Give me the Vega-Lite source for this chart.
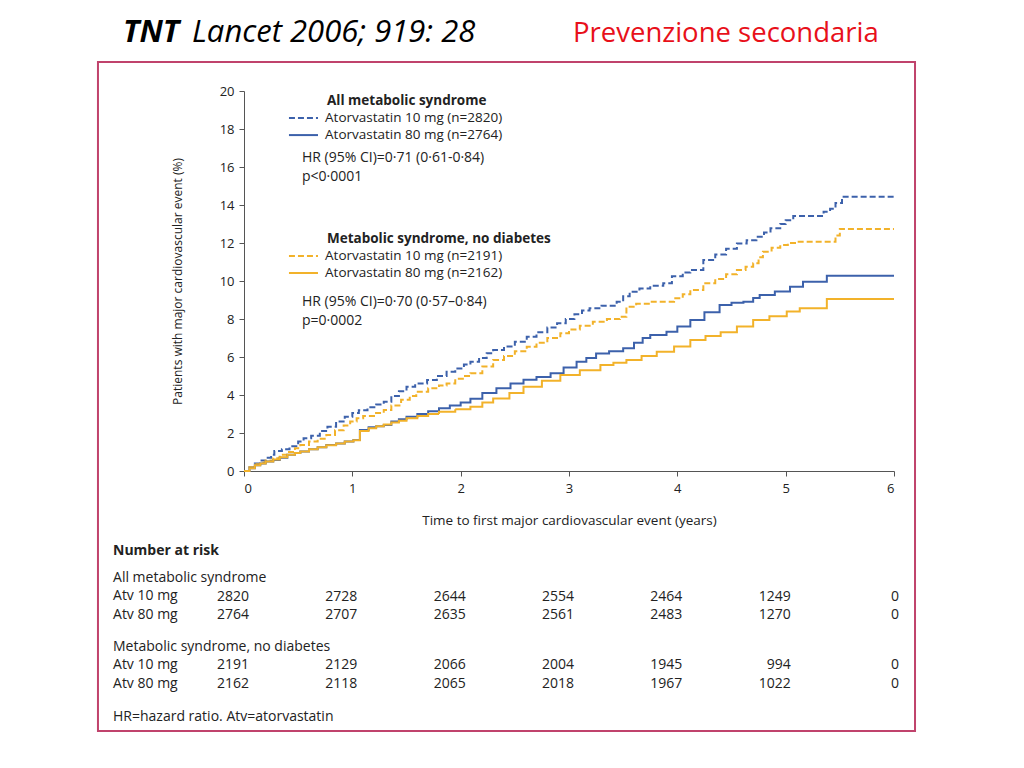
{
"$schema": "https://vega.github.io/schema/vega-lite/v6.json",
"width": 650, "height": 380,
"autosize": {"type": "none"},
"padding": {"left": 244, "top": 91, "right": 130, "bottom": 297},
"background": "white",
"config": {"view": {"stroke": null}, "font": "Open Sans", "text": {"font": "Open Sans", "color": "#222"}},
"data": {"values": [{}]},
"resolve": {"axis": {"x": "independent", "y": "independent"}},
"datasets": {
"risk": [
{"g":"a","d":"10","t":0,"n":2820},{"g":"a","d":"10","t":1,"n":2728},{"g":"a","d":"10","t":2,"n":2644},{"g":"a","d":"10","t":3,"n":2554},{"g":"a","d":"10","t":4,"n":2464},{"g":"a","d":"10","t":5,"n":1249},{"g":"a","d":"10","t":6,"n":0},
{"g":"a","d":"80","t":0,"n":2764},{"g":"a","d":"80","t":1,"n":2707},{"g":"a","d":"80","t":2,"n":2635},{"g":"a","d":"80","t":3,"n":2561},{"g":"a","d":"80","t":4,"n":2483},{"g":"a","d":"80","t":5,"n":1270},{"g":"a","d":"80","t":6,"n":0},
{"g":"n","d":"10","t":0,"n":2191},{"g":"n","d":"10","t":1,"n":2129},{"g":"n","d":"10","t":2,"n":2066},{"g":"n","d":"10","t":3,"n":2004},{"g":"n","d":"10","t":4,"n":1945},{"g":"n","d":"10","t":5,"n":994},{"g":"n","d":"10","t":6,"n":0},
{"g":"n","d":"80","t":0,"n":2162},{"g":"n","d":"80","t":1,"n":2118},{"g":"n","d":"80","t":2,"n":2065},{"g":"n","d":"80","t":3,"n":2018},{"g":"n","d":"80","t":4,"n":1967},{"g":"n","d":"80","t":5,"n":1022},{"g":"n","d":"80","t":6,"n":0}
],
"curves": [
{"g":"a","d":"10","t":0,"v":0},{"g":"a","d":"10","t":0.05,"v":0.2},{"g":"a","d":"10","t":0.1,"v":0.4},{"g":"a","d":"10","t":0.15,"v":0.55},{"g":"a","d":"10","t":0.2,"v":0.7},{"g":"a","d":"10","t":0.25,"v":0.85},{"g":"a","d":"10","t":0.28,"v":1.05},{"g":"a","d":"10","t":0.35,"v":1.15},{"g":"a","d":"10","t":0.42,"v":1.3},{"g":"a","d":"10","t":0.5,"v":1.55},{"g":"a","d":"10","t":0.55,"v":1.72},{"g":"a","d":"10","t":0.62,"v":1.85},{"g":"a","d":"10","t":0.7,"v":2.1},{"g":"a","d":"10","t":0.77,"v":2.33},{"g":"a","d":"10","t":0.85,"v":2.6},{"g":"a","d":"10","t":0.93,"v":2.85},{"g":"a","d":"10","t":1.0,"v":3.05},{"g":"a","d":"10","t":1.06,"v":3.2},{"g":"a","d":"10","t":1.14,"v":3.35},{"g":"a","d":"10","t":1.22,"v":3.5},{"g":"a","d":"10","t":1.29,"v":3.65},{"g":"a","d":"10","t":1.36,"v":3.95},{"g":"a","d":"10","t":1.43,"v":4.2},{"g":"a","d":"10","t":1.5,"v":4.44},{"g":"a","d":"10","t":1.58,"v":4.6},{"g":"a","d":"10","t":1.69,"v":4.79},{"g":"a","d":"10","t":1.78,"v":5.0},{"g":"a","d":"10","t":1.87,"v":5.23},{"g":"a","d":"10","t":1.95,"v":5.4},{"g":"a","d":"10","t":2.03,"v":5.6},{"g":"a","d":"10","t":2.09,"v":5.75},{"g":"a","d":"10","t":2.17,"v":5.95},{"g":"a","d":"10","t":2.24,"v":6.2},{"g":"a","d":"10","t":2.3,"v":6.37},{"g":"a","d":"10","t":2.4,"v":6.55},{"g":"a","d":"10","t":2.5,"v":6.8},{"g":"a","d":"10","t":2.61,"v":7.07},{"g":"a","d":"10","t":2.7,"v":7.3},{"g":"a","d":"10","t":2.8,"v":7.55},{"g":"a","d":"10","t":2.89,"v":7.77},{"g":"a","d":"10","t":2.97,"v":8.0},{"g":"a","d":"10","t":3.05,"v":8.25},{"g":"a","d":"10","t":3.12,"v":8.45},{"g":"a","d":"10","t":3.19,"v":8.56},{"g":"a","d":"10","t":3.3,"v":8.7},{"g":"a","d":"10","t":3.44,"v":8.91},{"g":"a","d":"10","t":3.5,"v":9.2},{"g":"a","d":"10","t":3.56,"v":9.44},{"g":"a","d":"10","t":3.65,"v":9.6},{"g":"a","d":"10","t":3.75,"v":9.75},{"g":"a","d":"10","t":3.87,"v":9.88},{"g":"a","d":"10","t":3.95,"v":10.25},{"g":"a","d":"10","t":4.05,"v":10.45},{"g":"a","d":"10","t":4.12,"v":10.58},{"g":"a","d":"10","t":4.24,"v":11.1},{"g":"a","d":"10","t":4.35,"v":11.4},{"g":"a","d":"10","t":4.45,"v":11.7},{"g":"a","d":"10","t":4.55,"v":11.98},{"g":"a","d":"10","t":4.64,"v":12.15},{"g":"a","d":"10","t":4.73,"v":12.33},{"g":"a","d":"10","t":4.8,"v":12.55},{"g":"a","d":"10","t":4.86,"v":12.77},{"g":"a","d":"10","t":4.95,"v":13.0},{"g":"a","d":"10","t":5.0,"v":13.2},{"g":"a","d":"10","t":5.07,"v":13.42},{"g":"a","d":"10","t":5.35,"v":13.65},{"g":"a","d":"10","t":5.41,"v":13.8},{"g":"a","d":"10","t":5.46,"v":14.1},{"g":"a","d":"10","t":5.52,"v":14.44},{"g":"a","d":"10","t":6.0,"v":14.44},
{"g":"n","d":"10","t":0,"v":0},{"g":"n","d":"10","t":0.05,"v":0.2},{"g":"n","d":"10","t":0.1,"v":0.35},{"g":"n","d":"10","t":0.15,"v":0.45},{"g":"n","d":"10","t":0.2,"v":0.55},{"g":"n","d":"10","t":0.27,"v":0.67},{"g":"n","d":"10","t":0.33,"v":0.85},{"g":"n","d":"10","t":0.4,"v":1.0},{"g":"n","d":"10","t":0.47,"v":1.2},{"g":"n","d":"10","t":0.52,"v":1.37},{"g":"n","d":"10","t":0.6,"v":1.55},{"g":"n","d":"10","t":0.68,"v":1.7},{"g":"n","d":"10","t":0.76,"v":1.89},{"g":"n","d":"10","t":0.84,"v":2.15},{"g":"n","d":"10","t":0.92,"v":2.4},{"g":"n","d":"10","t":0.98,"v":2.6},{"g":"n","d":"10","t":1.04,"v":2.77},{"g":"n","d":"10","t":1.1,"v":2.9},{"g":"n","d":"10","t":1.2,"v":3.05},{"g":"n","d":"10","t":1.29,"v":3.21},{"g":"n","d":"10","t":1.36,"v":3.45},{"g":"n","d":"10","t":1.45,"v":3.75},{"g":"n","d":"10","t":1.53,"v":3.95},{"g":"n","d":"10","t":1.59,"v":4.17},{"g":"n","d":"10","t":1.7,"v":4.35},{"g":"n","d":"10","t":1.8,"v":4.5},{"g":"n","d":"10","t":1.87,"v":4.61},{"g":"n","d":"10","t":1.95,"v":4.85},{"g":"n","d":"10","t":2.03,"v":5.0},{"g":"n","d":"10","t":2.09,"v":5.14},{"g":"n","d":"10","t":2.2,"v":5.5},{"g":"n","d":"10","t":2.3,"v":5.84},{"g":"n","d":"10","t":2.4,"v":6.05},{"g":"n","d":"10","t":2.5,"v":6.3},{"g":"n","d":"10","t":2.61,"v":6.54},{"g":"n","d":"10","t":2.7,"v":6.75},{"g":"n","d":"10","t":2.8,"v":7.0},{"g":"n","d":"10","t":2.92,"v":7.25},{"g":"n","d":"10","t":3.0,"v":7.45},{"g":"n","d":"10","t":3.1,"v":7.65},{"g":"n","d":"10","t":3.22,"v":7.86},{"g":"n","d":"10","t":3.35,"v":8.0},{"g":"n","d":"10","t":3.47,"v":8.12},{"g":"n","d":"10","t":3.53,"v":8.65},{"g":"n","d":"10","t":3.62,"v":8.8},{"g":"n","d":"10","t":3.75,"v":8.91},{"g":"n","d":"10","t":3.97,"v":9.09},{"g":"n","d":"10","t":4.05,"v":9.3},{"g":"n","d":"10","t":4.12,"v":9.53},{"g":"n","d":"10","t":4.24,"v":9.88},{"g":"n","d":"10","t":4.35,"v":10.1},{"g":"n","d":"10","t":4.45,"v":10.35},{"g":"n","d":"10","t":4.55,"v":10.58},{"g":"n","d":"10","t":4.63,"v":10.75},{"g":"n","d":"10","t":4.7,"v":10.93},{"g":"n","d":"10","t":4.75,"v":11.25},{"g":"n","d":"10","t":4.79,"v":11.54},{"g":"n","d":"10","t":4.87,"v":11.75},{"g":"n","d":"10","t":4.95,"v":11.89},{"g":"n","d":"10","t":5.02,"v":12.0},{"g":"n","d":"10","t":5.1,"v":12.07},{"g":"n","d":"10","t":5.46,"v":12.4},{"g":"n","d":"10","t":5.5,"v":12.74},{"g":"n","d":"10","t":6.0,"v":12.74},
{"g":"a","d":"80","t":0,"v":0},{"g":"a","d":"80","t":0.05,"v":0.15},{"g":"a","d":"80","t":0.1,"v":0.3},{"g":"a","d":"80","t":0.15,"v":0.4},{"g":"a","d":"80","t":0.2,"v":0.5},{"g":"a","d":"80","t":0.27,"v":0.58},{"g":"a","d":"80","t":0.33,"v":0.7},{"g":"a","d":"80","t":0.4,"v":0.85},{"g":"a","d":"80","t":0.47,"v":0.95},{"g":"a","d":"80","t":0.52,"v":1.02},{"g":"a","d":"80","t":0.6,"v":1.15},{"g":"a","d":"80","t":0.68,"v":1.25},{"g":"a","d":"80","t":0.76,"v":1.37},{"g":"a","d":"80","t":0.85,"v":1.45},{"g":"a","d":"80","t":0.93,"v":1.55},{"g":"a","d":"80","t":1.01,"v":1.63},{"g":"a","d":"80","t":1.07,"v":2.16},{"g":"a","d":"80","t":1.15,"v":2.3},{"g":"a","d":"80","t":1.22,"v":2.35},{"g":"a","d":"80","t":1.29,"v":2.42},{"g":"a","d":"80","t":1.36,"v":2.6},{"g":"a","d":"80","t":1.43,"v":2.72},{"g":"a","d":"80","t":1.5,"v":2.86},{"g":"a","d":"80","t":1.6,"v":3.0},{"g":"a","d":"80","t":1.7,"v":3.15},{"g":"a","d":"80","t":1.8,"v":3.3},{"g":"a","d":"80","t":1.9,"v":3.45},{"g":"a","d":"80","t":2.0,"v":3.6},{"g":"a","d":"80","t":2.09,"v":3.8},{"g":"a","d":"80","t":2.2,"v":4.1},{"g":"a","d":"80","t":2.33,"v":4.35},{"g":"a","d":"80","t":2.46,"v":4.61},{"g":"a","d":"80","t":2.58,"v":4.8},{"g":"a","d":"80","t":2.7,"v":4.95},{"g":"a","d":"80","t":2.83,"v":5.14},{"g":"a","d":"80","t":2.95,"v":5.45},{"g":"a","d":"80","t":3.07,"v":5.75},{"g":"a","d":"80","t":3.16,"v":5.95},{"g":"a","d":"80","t":3.25,"v":6.19},{"g":"a","d":"80","t":3.37,"v":6.3},{"g":"a","d":"80","t":3.5,"v":6.46},{"g":"a","d":"80","t":3.6,"v":6.75},{"g":"a","d":"80","t":3.68,"v":7.0},{"g":"a","d":"80","t":3.75,"v":7.16},{"g":"a","d":"80","t":3.9,"v":7.33},{"g":"a","d":"80","t":4.0,"v":7.6},{"g":"a","d":"80","t":4.12,"v":7.95},{"g":"a","d":"80","t":4.25,"v":8.35},{"g":"a","d":"80","t":4.39,"v":8.74},{"g":"a","d":"80","t":4.5,"v":8.85},{"g":"a","d":"80","t":4.61,"v":8.91},{"g":"a","d":"80","t":4.7,"v":9.1},{"g":"a","d":"80","t":4.76,"v":9.26},{"g":"a","d":"80","t":4.9,"v":9.45},{"g":"a","d":"80","t":5.04,"v":9.7},{"g":"a","d":"80","t":5.16,"v":9.96},{"g":"a","d":"80","t":5.38,"v":10.28},{"g":"a","d":"80","t":6.0,"v":10.28},
{"g":"n","d":"80","t":0,"v":0},{"g":"n","d":"80","t":0.05,"v":0.15},{"g":"n","d":"80","t":0.1,"v":0.3},{"g":"n","d":"80","t":0.15,"v":0.4},{"g":"n","d":"80","t":0.2,"v":0.5},{"g":"n","d":"80","t":0.27,"v":0.6},{"g":"n","d":"80","t":0.33,"v":0.72},{"g":"n","d":"80","t":0.4,"v":0.85},{"g":"n","d":"80","t":0.47,"v":0.95},{"g":"n","d":"80","t":0.52,"v":1.02},{"g":"n","d":"80","t":0.6,"v":1.15},{"g":"n","d":"80","t":0.68,"v":1.25},{"g":"n","d":"80","t":0.76,"v":1.35},{"g":"n","d":"80","t":0.85,"v":1.45},{"g":"n","d":"80","t":0.93,"v":1.55},{"g":"n","d":"80","t":1.01,"v":1.62},{"g":"n","d":"80","t":1.07,"v":2.1},{"g":"n","d":"80","t":1.15,"v":2.25},{"g":"n","d":"80","t":1.22,"v":2.35},{"g":"n","d":"80","t":1.29,"v":2.45},{"g":"n","d":"80","t":1.36,"v":2.55},{"g":"n","d":"80","t":1.43,"v":2.65},{"g":"n","d":"80","t":1.5,"v":2.77},{"g":"n","d":"80","t":1.6,"v":2.9},{"g":"n","d":"80","t":1.7,"v":3.0},{"g":"n","d":"80","t":1.8,"v":3.12},{"g":"n","d":"80","t":1.95,"v":3.25},{"g":"n","d":"80","t":2.09,"v":3.38},{"g":"n","d":"80","t":2.2,"v":3.6},{"g":"n","d":"80","t":2.3,"v":3.82},{"g":"n","d":"80","t":2.45,"v":4.1},{"g":"n","d":"80","t":2.58,"v":4.44},{"g":"n","d":"80","t":2.75,"v":4.75},{"g":"n","d":"80","t":2.92,"v":5.05},{"g":"n","d":"80","t":3.1,"v":5.3},{"g":"n","d":"80","t":3.29,"v":5.58},{"g":"n","d":"80","t":3.41,"v":5.7},{"g":"n","d":"80","t":3.53,"v":5.84},{"g":"n","d":"80","t":3.67,"v":6.05},{"g":"n","d":"80","t":3.81,"v":6.28},{"g":"n","d":"80","t":3.97,"v":6.55},{"g":"n","d":"80","t":4.12,"v":6.89},{"g":"n","d":"80","t":4.26,"v":7.1},{"g":"n","d":"80","t":4.4,"v":7.3},{"g":"n","d":"80","t":4.55,"v":7.6},{"g":"n","d":"80","t":4.7,"v":7.95},{"g":"n","d":"80","t":4.85,"v":8.15},{"g":"n","d":"80","t":5.01,"v":8.39},{"g":"n","d":"80","t":5.13,"v":8.56},{"g":"n","d":"80","t":5.38,"v":9.05},{"g":"n","d":"80","t":6.0,"v":9.05}
]
},
"layer": [
{"data": {"name": "curves"},
 "mark": {"type": "line", "interpolate": "step-after", "strokeWidth": 2},
 "encoding": {
  "x": {"field": "t", "type": "quantitative", "scale": {"domain": [0, 6], "nice": false},
   "axis": {"values": [0,1,2,3,4,5,6], "format": "d", "labelOverlap": false, "title": "Time to first major cardiovascular event (years)", "grid": false, "domainColor": "#555", "tickColor": "#555", "tickSize": 5, "labelFontSize": 13, "labelColor": "#222", "labelPadding": 6, "titleFontSize": 13.5, "titleFontWeight": "normal", "titleColor": "#222", "titlePadding": 18, "labelFont": "Open Sans", "titleFont": "Open Sans"}},
  "y": {"field": "v", "type": "quantitative", "scale": {"domain": [0, 20], "nice": false},
   "axis": {"values": [0,2,4,6,8,10,12,14,16,18,20], "format": "d", "labelOverlap": false, "title": "Patients with major cardiovascular event (%)", "grid": false, "domainColor": "#555", "tickColor": "#555", "tickSize": 5, "labelFontSize": 13, "labelColor": "#222", "labelPadding": 5, "titleFontSize": 12, "titleFontWeight": "normal", "titleColor": "#222", "titlePadding": 35, "labelFont": "Open Sans", "titleFont": "Open Sans"}},
  "color": {"field": "g", "type": "nominal", "scale": {"domain": ["a", "n"], "range": ["#3c61ab", "#f2b22a"]}, "legend": null},
  "strokeDash": {"field": "d", "type": "nominal", "scale": {"domain": ["10", "80"], "range": [[6, 3], [1, 0]]}, "legend": null}
 }},
{"mark": {"type": "rect", "fill": "transparent", "stroke": "#c0436c", "strokeWidth": 2},
 "encoding": {"x": {"datum": -1.348, "type": "quantitative", "axis": null}, "x2": {"datum": 6.194}, "y": {"datum": 21.53, "type": "quantitative", "axis": null}, "y2": {"datum": -13.68}}},
{"mark": {"type": "rule", "stroke": "#3c61ab", "strokeWidth": 2, "strokeDash": [6, 3]}, "encoding": {"x": {"datum": 0.415, "type": "quantitative", "axis": null}, "x2": {"datum": 0.683}, "y": {"datum": 18.58, "type": "quantitative", "axis": null}}},
{"mark": {"type": "rule", "stroke": "#3c61ab", "strokeWidth": 2}, "encoding": {"x": {"datum": 0.415, "type": "quantitative", "axis": null}, "x2": {"datum": 0.683}, "y": {"datum": 17.68, "type": "quantitative", "axis": null}}},
{"mark": {"type": "rule", "stroke": "#f2b22a", "strokeWidth": 2, "strokeDash": [6, 3]}, "encoding": {"x": {"datum": 0.415, "type": "quantitative", "axis": null}, "x2": {"datum": 0.683}, "y": {"datum": 11.32, "type": "quantitative", "axis": null}}},
{"mark": {"type": "rule", "stroke": "#f2b22a", "strokeWidth": 2}, "encoding": {"x": {"datum": 0.415, "type": "quantitative", "axis": null}, "x2": {"datum": 0.683}, "y": {"datum": 10.42, "type": "quantitative", "axis": null}}},
{"mark": {"type": "text", "align": "left", "baseline": "middle", "fontSize": 13.5, "fontWeight": "bold"}, "encoding": {"x": {"datum": 0.766, "type": "quantitative", "axis": null}, "y": {"datum": 19.45, "type": "quantitative", "axis": null}, "text": {"value": "All metabolic syndrome"}}},
{"mark": {"type": "text", "align": "left", "baseline": "middle", "fontSize": 13.5, "lineHeight": 17}, "encoding": {"x": {"datum": 0.748, "type": "quantitative", "axis": null}, "y": {"datum": 18.58, "type": "quantitative", "axis": null}, "text": {"value": ["Atorvastatin 10 mg (n=2820)", "Atorvastatin 80 mg (n=2764)"]}}},
{"mark": {"type": "text", "align": "left", "baseline": "middle", "fontSize": 14, "lineHeight": 19}, "encoding": {"x": {"datum": 0.535, "type": "quantitative", "axis": null}, "y": {"datum": 16.47, "type": "quantitative", "axis": null}, "text": {"value": ["HR (95% CI)=0·71 (0·61-0·84)", "p<0·0001"]}}},
{"mark": {"type": "text", "align": "left", "baseline": "middle", "fontSize": 13.5, "fontWeight": "bold"}, "encoding": {"x": {"datum": 0.766, "type": "quantitative", "axis": null}, "y": {"datum": 12.19, "type": "quantitative", "axis": null}, "text": {"value": "Metabolic syndrome, no diabetes"}}},
{"mark": {"type": "text", "align": "left", "baseline": "middle", "fontSize": 13.5, "lineHeight": 17}, "encoding": {"x": {"datum": 0.748, "type": "quantitative", "axis": null}, "y": {"datum": 11.32, "type": "quantitative", "axis": null}, "text": {"value": ["Atorvastatin 10 mg (n=2191)", "Atorvastatin 80 mg (n=2162)"]}}},
{"mark": {"type": "text", "align": "left", "baseline": "middle", "fontSize": 14, "lineHeight": 19}, "encoding": {"x": {"datum": 0.535, "type": "quantitative", "axis": null}, "y": {"datum": 8.89, "type": "quantitative", "axis": null}, "text": {"value": ["HR (95% CI)=0·70 (0·57–0·84)", "p=0·0002"]}}},
{"mark": {"type": "text", "align": "left", "baseline": "alphabetic", "fontSize": 31, "fontWeight": "bold", "fontStyle": "italic", "color": "#000"}, "encoding": {"x": {"datum": -1.117, "type": "quantitative", "axis": null}, "y": {"datum": 22.58, "type": "quantitative", "axis": null}, "text": {"value": "TNT"}}},
{"mark": {"type": "text", "align": "left", "baseline": "alphabetic", "fontSize": 31, "fontStyle": "italic", "color": "#000"}, "encoding": {"x": {"datum": -0.48, "type": "quantitative", "axis": null}, "y": {"datum": 22.58, "type": "quantitative", "axis": null}, "text": {"value": "Lancet 2006; 919: 28"}}},
{"mark": {"type": "text", "align": "left", "baseline": "alphabetic", "fontSize": 27.5, "color": "#e8101a"}, "encoding": {"x": {"datum": 3.037, "type": "quantitative", "axis": null}, "y": {"datum": 22.58, "type": "quantitative", "axis": null}, "text": {"value": "Prevenzione secondaria"}}},
{"mark": {"type": "text", "align": "left", "baseline": "middle", "fontSize": 14, "fontWeight": "bold"}, "encoding": {"x": {"datum": -1.209, "type": "quantitative", "axis": null}, "y": {"datum": -4.21, "type": "quantitative", "axis": null}, "text": {"value": "Number at risk"}}},
{"mark": {"type": "text", "align": "left", "baseline": "middle", "fontSize": 14, "lineHeight": 18.5}, "encoding": {"x": {"datum": -1.209, "type": "quantitative", "axis": null}, "y": {"datum": -5.63, "type": "quantitative", "axis": null}, "text": {"value": ["All metabolic syndrome", "Atv 10 mg", "Atv 80 mg"]}}},
{"mark": {"type": "text", "align": "left", "baseline": "middle", "fontSize": 14, "lineHeight": 18.5}, "encoding": {"x": {"datum": -1.209, "type": "quantitative", "axis": null}, "y": {"datum": -9.26, "type": "quantitative", "axis": null}, "text": {"value": ["Metabolic syndrome, no diabetes", "Atv 10 mg", "Atv 80 mg"]}}},
{"mark": {"type": "text", "align": "left", "baseline": "middle", "fontSize": 14}, "encoding": {"x": {"datum": -1.209, "type": "quantitative", "axis": null}, "y": {"datum": -12.95, "type": "quantitative", "axis": null}, "text": {"value": "HR=hazard ratio. Atv=atorvastatin"}}},
{"data": {"name": "risk"}, "transform": [{"filter": "datum.g == 'a' && datum.d == '10'"}], "mark": {"type": "text", "align": "right", "baseline": "middle", "fontSize": 14, "dx": 5}, "encoding": {"x": {"field": "t", "type": "quantitative", "axis": null}, "y": {"datum": -6.63, "type": "quantitative", "axis": null}, "text": {"field": "n", "type": "quantitative", "format": "d"}}},
{"data": {"name": "risk"}, "transform": [{"filter": "datum.g == 'a' && datum.d == '80'"}], "mark": {"type": "text", "align": "right", "baseline": "middle", "fontSize": 14, "dx": 5}, "encoding": {"x": {"field": "t", "type": "quantitative", "axis": null}, "y": {"datum": -7.58, "type": "quantitative", "axis": null}, "text": {"field": "n", "type": "quantitative", "format": "d"}}},
{"data": {"name": "risk"}, "transform": [{"filter": "datum.g == 'n' && datum.d == '10'"}], "mark": {"type": "text", "align": "right", "baseline": "middle", "fontSize": 14, "dx": 5}, "encoding": {"x": {"field": "t", "type": "quantitative", "axis": null}, "y": {"datum": -10.21, "type": "quantitative", "axis": null}, "text": {"field": "n", "type": "quantitative", "format": "d"}}},
{"data": {"name": "risk"}, "transform": [{"filter": "datum.g == 'n' && datum.d == '80'"}], "mark": {"type": "text", "align": "right", "baseline": "middle", "fontSize": 14, "dx": 5}, "encoding": {"x": {"field": "t", "type": "quantitative", "axis": null}, "y": {"datum": -11.21, "type": "quantitative", "axis": null}, "text": {"field": "n", "type": "quantitative", "format": "d"}}}
]
}
